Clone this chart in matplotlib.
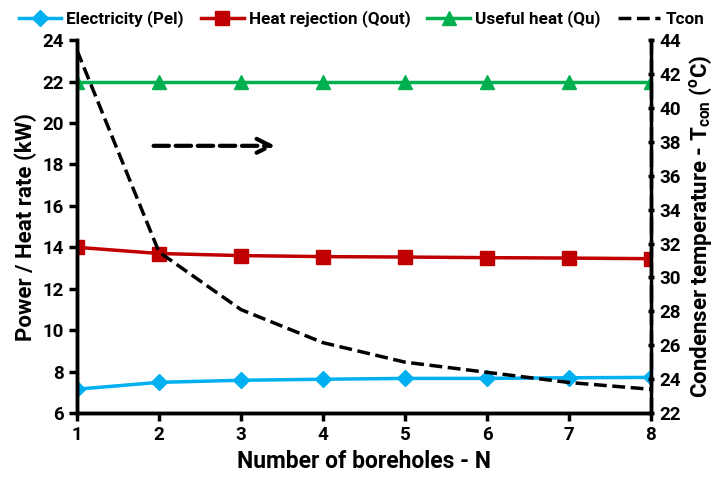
import numpy as np
import matplotlib.pyplot as plt

plt.rcParams['font.family'] = ['Roboto', 'DejaVu Sans']
plt.rcParams['font.weight'] = 'bold'
plt.rcParams['mathtext.fontset'] = 'custom'
plt.rcParams['mathtext.rm'] = 'Roboto:bold'
plt.rcParams['mathtext.bf'] = 'Roboto:bold'

n_boreholes = [1, 2, 3, 4, 5, 6, 7, 8]
p_el = [7.15, 7.48, 7.58, 7.63, 7.67, 7.67, 7.70, 7.72]
q_out = [14.0, 13.7, 13.6, 13.55, 13.53, 13.5, 13.48, 13.45]
q_u = [22.0, 22.0, 22.0, 22.0, 22.0, 22.0, 22.0, 22.0]
t_con = [43.4, 31.5, 28.1, 26.15, 25.0, 24.4, 23.8, 23.4]

fig = plt.figure(figsize=(7.23, 4.84), dpi=100)
ax = fig.add_axes([0.1065, 0.1467, 0.7939, 0.7703])
ax2 = ax.twinx()

l1, = ax.plot(n_boreholes, p_el, color='#00B0F0', lw=2.5, marker='D', ms=8, label='Electricity (Pel)')
l2, = ax.plot(n_boreholes, q_out, color='#C00000', lw=2.5, marker='s', ms=10, label='Heat rejection (Qout)')
l3, = ax.plot(n_boreholes, q_u, color='#00B050', lw=2.5, marker='^', ms=10, label='Useful heat (Qu)')
l4, = ax2.plot(n_boreholes, t_con, color='black', lw=2.5, ls='--', label='Tcon')

ax.set_xlim(1, 8)
ax.set_ylim(6, 24)
ax.set_yticks(np.arange(6, 25, 2))
ax.set_xticks(n_boreholes)
ax2.set_ylim(22, 44)
ax2.set_yticks(np.arange(22, 45, 2))

for a in (ax, ax2):
    for s in a.spines.values():
        s.set_linewidth(2.5)
    a.spines['top'].set_visible(False)
ax2.spines['right'].set_linestyle((0, (4, 2.5)))
ax.tick_params(axis='both', width=2.5, length=6, labelsize=13.5)
ax2.tick_params(axis='y', width=2.5, length=5, direction='inout', labelsize=13.5)

ax.set_xlabel('Number of boreholes - N', fontsize=16.5, fontweight='bold')
ax.set_ylabel('Power / Heat rate (kW)', fontsize=16, fontweight='bold')
ax2.set_ylabel('Condenser temperature - T$_{\\mathrm{con}}$ ($^{\\mathrm{o}}$C)', fontsize=16, fontweight='bold')

ax.annotate('', xy=(3.45, 18.9), xytext=(1.9, 18.9),
            arrowprops=dict(arrowstyle='->', lw=3, ls='--', color='black', mutation_scale=25))

fig.legend(handles=[l1, l2, l3, l4], loc='upper center', bbox_to_anchor=(0.5, 1.01), ncol=4,
           frameon=False, handlelength=2.5, columnspacing=1.0, handletextpad=0.3,
           prop={'weight': 'bold', 'size': 12.3})

fig.savefig('out.png', dpi=100)
